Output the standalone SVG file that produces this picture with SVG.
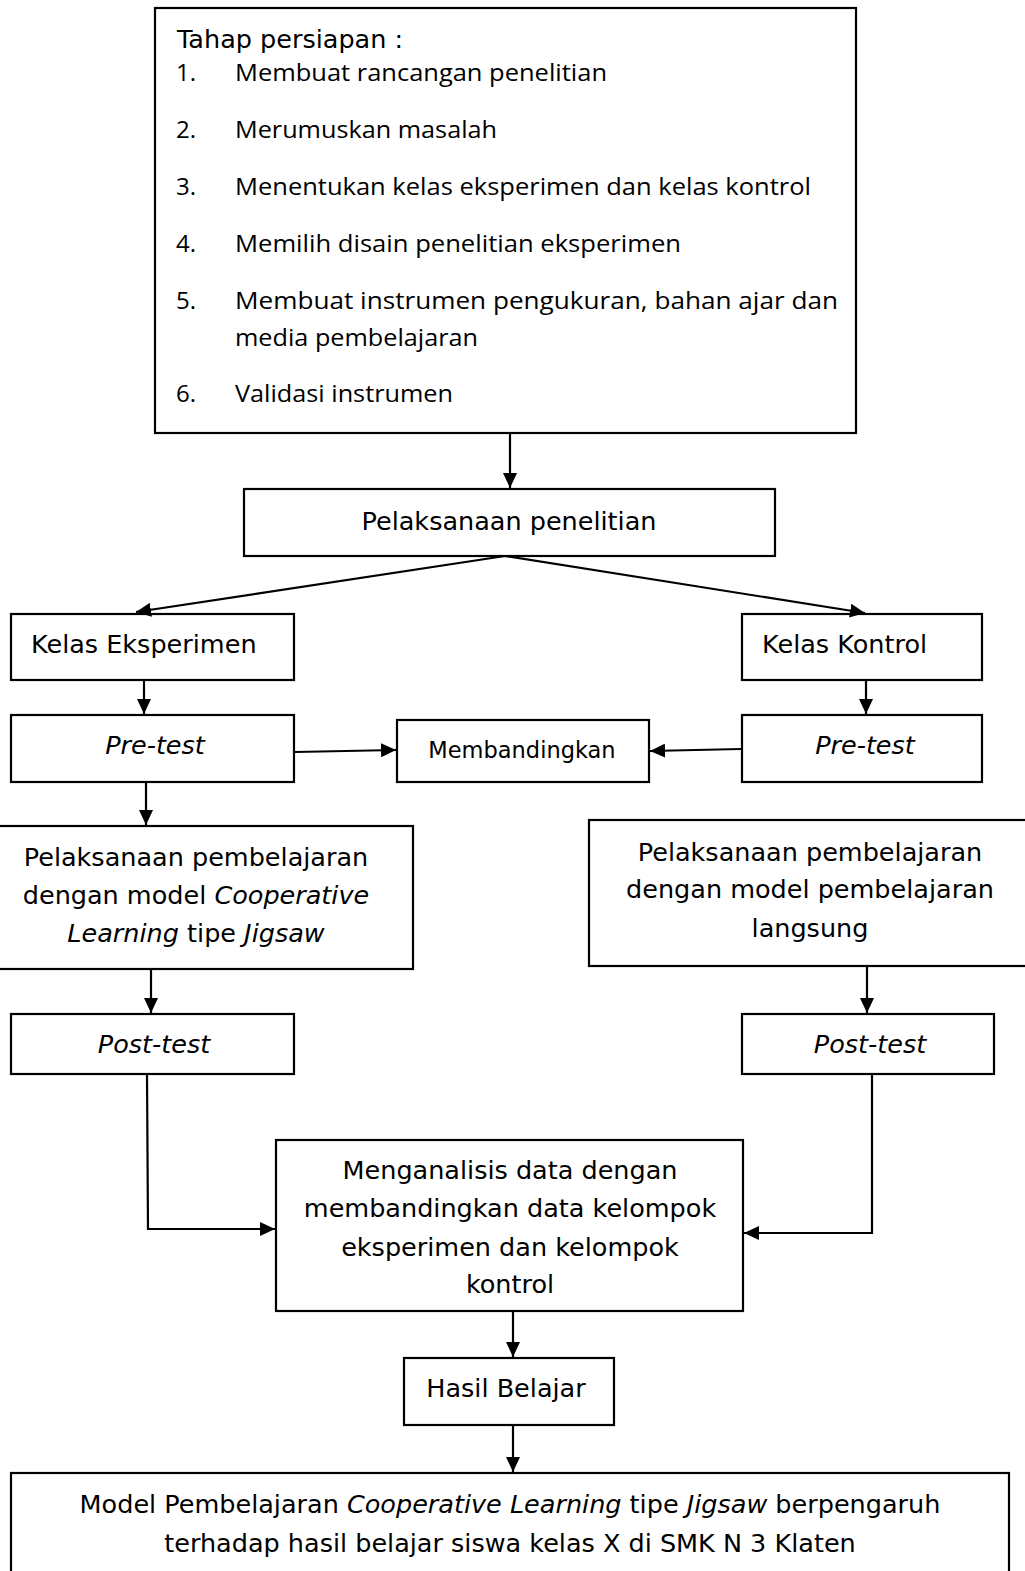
<svg xmlns="http://www.w3.org/2000/svg" width="1025" height="1571" viewBox="0 0 1025 1571">
<defs>
<marker id="ah" markerUnits="userSpaceOnUse" markerWidth="16" markerHeight="14" refX="15" refY="7" orient="auto">
<path d="M0,0 L15,7 L0,14 z" fill="#000"/>
</marker>
<style>
.box{fill:#fff;stroke:#000;stroke-width:2.2}
.t{font-family:"DejaVu Sans",Verdana,sans-serif;font-size:25.5px;fill:#000}
.c{text-anchor:middle}
.i{font-style:italic}
.li{font-family:"Open Sans","Noto Sans",sans-serif;font-size:24px;fill:#000}
.con{fill:none;stroke:#000;stroke-width:2.2}
.arr{marker-end:url(#ah)}
</style>
</defs>
<rect width="1025" height="1571" fill="#fff"/>
<g id="persiapan">
<rect class="box" x="155" y="8" width="701" height="425"/>
<text class="t" x="177" y="48">Tahap persiapan :</text>
<text class="li" x="176" y="81">1.</text><text class="li" x="235" y="81" textLength="372" lengthAdjust="spacingAndGlyphs">Membuat rancangan penelitian</text>
<text class="li" x="176" y="138">2.</text><text class="li" x="235" y="138" textLength="262" lengthAdjust="spacingAndGlyphs">Merumuskan masalah</text>
<text class="li" x="176" y="195">3.</text><text class="li" x="235" y="195" textLength="576" lengthAdjust="spacingAndGlyphs">Menentukan kelas eksperimen dan kelas kontrol</text>
<text class="li" x="176" y="252">4.</text><text class="li" x="235" y="252" textLength="446" lengthAdjust="spacingAndGlyphs">Memilih disain penelitian eksperimen</text>
<text class="li" x="176" y="309">5.</text><text class="li" x="235" y="309" textLength="603" lengthAdjust="spacingAndGlyphs">Membuat instrumen pengukuran, bahan ajar dan</text>
<text class="li" x="235" y="346" textLength="243" lengthAdjust="spacingAndGlyphs">media pembelajaran</text>
<text class="li" x="176" y="402">6.</text><text class="li" x="235" y="402" textLength="218" lengthAdjust="spacingAndGlyphs">Validasi instrumen</text>
</g>
<g id="pelaksanaan">
<rect class="box" x="244" y="489" width="531" height="67"/>
<text class="t c" x="509" y="530">Pelaksanaan penelitian</text>
</g>
<g id="kelas-eksperimen">
<rect class="box" x="11" y="614" width="283" height="66"/>
<text class="t" x="31" y="653">Kelas Eksperimen</text>
</g>
<g id="kelas-kontrol">
<rect class="box" x="742" y="614" width="240" height="66"/>
<text class="t" x="762" y="653">Kelas Kontrol</text>
</g>
<g id="pretest-e">
<rect class="box" x="11" y="715" width="283" height="67"/>
<text class="t c i" x="155" y="754">Pre-test</text>
</g>
<g id="membandingkan">
<rect class="box" x="397" y="720" width="252" height="62"/>
<text class="t c" x="522" y="758" style="font-size:22.5px">Membandingkan</text>
</g>
<g id="pretest-k">
<rect class="box" x="742" y="715" width="240" height="67"/>
<text class="t c i" x="865" y="754">Pre-test</text>
</g>
<g id="pembelajaran-e">
<rect class="box" x="-2" y="826" width="415" height="143"/>
<text class="t c" x="196" y="866">Pelaksanaan pembelajaran</text>
<text class="t c" x="196" y="904">dengan model <tspan class="i">Cooperative</tspan></text>
<text class="t c" x="196" y="942"><tspan class="i">Learning</tspan> tipe <tspan class="i">Jigsaw</tspan></text>
</g>
<g id="pembelajaran-k">
<rect class="box" x="589" y="820" width="445" height="146"/>
<text class="t c" x="810" y="861">Pelaksanaan pembelajaran</text>
<text class="t c" x="810" y="898">dengan model pembelajaran</text>
<text class="t c" x="810" y="937">langsung</text>
</g>
<g id="posttest-e">
<rect class="box" x="11" y="1014" width="283" height="60"/>
<text class="t c i" x="154" y="1053">Post-test</text>
</g>
<g id="posttest-k">
<rect class="box" x="742" y="1014" width="252" height="60"/>
<text class="t c i" x="870" y="1053">Post-test</text>
</g>
<g id="analisis">
<rect class="box" x="276" y="1140" width="467" height="171"/>
<text class="t c" x="510" y="1179">Menganalisis data dengan</text>
<text class="t c" x="510" y="1217">membandingkan data kelompok</text>
<text class="t c" x="510" y="1256">eksperimen dan kelompok</text>
<text class="t c" x="510" y="1293">kontrol</text>
</g>
<g id="hasil">
<rect class="box" x="404" y="1358" width="210" height="67"/>
<text class="t c" x="506" y="1397">Hasil Belajar</text>
</g>
<g id="kesimpulan">
<rect class="box" x="11" y="1473" width="998" height="110"/>
<text class="t c" x="510" y="1513">Model Pembelajaran <tspan class="i">Cooperative Learning</tspan> tipe <tspan class="i">Jigsaw</tspan> berpengaruh</text>
<text class="t c" x="510" y="1552">terhadap hasil belajar siswa kelas X di SMK N 3 Klaten</text>
</g>
<g id="connectors">
<line class="con arr" x1="510" y1="434" x2="510" y2="488"/>
<line class="con arr" x1="505" y1="556" x2="136" y2="612"/>
<line class="con arr" x1="505" y1="556" x2="865" y2="613"/>
<line class="con arr" x1="144" y1="681" x2="144" y2="714"/>
<line class="con arr" x1="866" y1="681" x2="866" y2="714"/>
<line class="con arr" x1="295" y1="752" x2="396" y2="750"/>
<line class="con arr" x1="741" y1="749" x2="650" y2="751"/>
<line class="con arr" x1="146" y1="783" x2="146" y2="825"/>
<line class="con arr" x1="151" y1="970" x2="151" y2="1013"/>
<line class="con arr" x1="867" y1="967" x2="867" y2="1013"/>
<polyline class="con arr" points="147,1075 148,1229 275,1229"/>
<polyline class="con arr" points="872,1075 872,1233 744,1233"/>
<line class="con arr" x1="513" y1="1312" x2="513" y2="1357"/>
<line class="con arr" x1="513" y1="1426" x2="513" y2="1472"/>
</g>
</svg>
